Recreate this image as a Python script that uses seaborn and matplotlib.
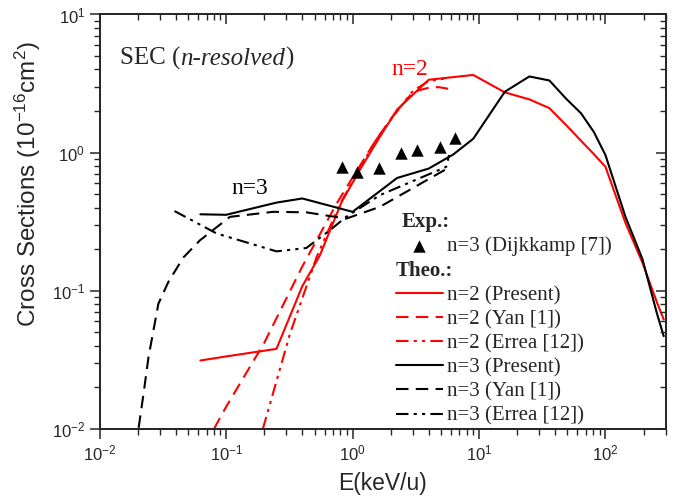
import matplotlib
matplotlib.use("Agg")
import matplotlib.pyplot as plt
import seaborn as sns
from matplotlib.lines import Line2D

# ---------------- data ----------------
E_n2_present = [0.0625, 0.1, 0.25, 0.4, 0.55, 0.82, 1.14, 1.64, 2.25, 4.0, 9.0, 16, 25, 36, 49, 64, 81, 100, 144, 196, 256, 289]
S_n2_present = [0.0313, 0.0335, 0.038, 0.108, 0.18, 0.44, 0.75, 1.3, 2.05, 3.37, 3.65, 2.73, 2.43, 2.1, 1.58, 1.22, 0.975, 0.79, 0.31, 0.16, 0.082, 0.062]

E_n2_yan = [0.08, 0.1, 0.2, 0.4, 0.75, 1.0, 1.5, 2.0, 3.0, 4.0, 4.8, 5.7]
S_n2_yan = [0.01, 0.0145, 0.042, 0.15, 0.43, 0.66, 1.2, 1.75, 2.75, 2.95, 2.98, 2.9]

E_n2_errea = [0.195, 0.32, 0.52, 0.8, 1.0, 1.5, 2.25, 3.0, 4.0, 5.5, 5.7]
S_n2_errea = [0.01, 0.049, 0.176, 0.43, 0.62, 1.2, 2.0, 2.8, 3.3, 3.45, 3.58]

E_n3_present = [0.0625, 0.1, 0.25, 0.4, 1.0, 2.25, 4.0, 6.25, 9.0, 16, 25, 36, 49, 64, 81, 100, 144, 196, 256, 289]
S_n3_present = [0.358, 0.355, 0.435, 0.466, 0.373, 0.656, 0.767, 0.97, 1.26, 2.76, 3.56, 3.33, 2.45, 1.93, 1.41, 0.96, 0.343, 0.17, 0.068, 0.047]

E_n3_yan = [0.0203, 0.0222, 0.0243, 0.0266, 0.0291, 0.0349, 0.0458, 0.062, 0.107, 0.235, 0.43, 0.89, 1.64, 5.5]
S_n3_yan = [0.0102, 0.018, 0.0331, 0.0518, 0.0807, 0.116, 0.174, 0.232, 0.343, 0.373, 0.37, 0.333, 0.405, 0.76]

E_n3_errea = [0.039, 0.084, 0.25, 0.43, 0.66, 0.89, 1.64, 5.5, 5.8]
S_n3_errea = [0.378, 0.26, 0.193, 0.204, 0.274, 0.343, 0.492, 0.789, 0.96]

E_exp = [0.817, 1.08, 1.62, 2.43, 3.24, 4.88, 6.45]
S_exp = [0.782, 0.726, 0.776, 0.994, 1.05, 1.09, 1.28]

legend_labels = ["n=2 (Present)", "n=2 (Yan [1])", "n=2 (Errea [12])",
                 "n=3 (Present)", "n=3 (Yan [1])", "n=3 (Errea [12])"]
exp_label = "n=3 (Dijkkamp [7])"

# ---------------- style ----------------
sns.set_style("ticks")
plt.rcParams["font.family"] = ["Liberation Sans", "DejaVu Sans"]
plt.rcParams["mathtext.fontset"] = "custom"
plt.rcParams["mathtext.rm"] = "Liberation Sans"
plt.rcParams["mathtext.it"] = "Liberation Sans:italic"
plt.rcParams["mathtext.bf"] = "Liberation Sans:bold"
plt.rcParams["axes.linewidth"] = 1.1
plt.rcParams["axes.unicode_minus"] = True

RED = "#ff0000"
BLK = "#000000"
DASH = (0, (6, 3.5))
DADOT = (0, (6, 2.5, 1.5, 2.5, 1.5, 2.5))
LW = 1.5

fig = plt.figure(figsize=(6.74, 4.98), dpi=100)
ax = fig.add_axes([0.148, 0.1386, 0.8398, 0.8323])

series = [
    (E_n2_present, S_n2_present, RED, "-"),
    (E_n2_yan, S_n2_yan, RED, DASH),
    (E_n2_errea, S_n2_errea, RED, DADOT),
    (E_n3_present, S_n3_present, BLK, "-"),
    (E_n3_yan, S_n3_yan, BLK, DASH),
    (E_n3_errea, S_n3_errea, BLK, DADOT),
]
for (xs, ys, c, ls), lab in zip(series, legend_labels):
    sns.lineplot(x=xs, y=ys, ax=ax, color=c, linestyle=ls, linewidth=LW,
                 sort=False, estimator=None, label=lab)

sns.scatterplot(x=E_exp, y=S_exp, ax=ax, marker="^", color="black", s=80,
                edgecolor="black", linewidth=0, label=exp_label, zorder=5)

ax.set_xscale("log")
ax.set_yscale("log")
ax.set_xlim(0.01, 300)
ax.set_ylim(0.01, 10)

ax.tick_params(which="major", direction="out", length=7, width=1.1,
               labelsize=12, top=False, right=False)
ax.tick_params(which="minor", direction="out", length=4, width=1.0,
               top=False, right=False)

ax.set_xlabel("E(keV/u)", fontsize=16.5, labelpad=6)
ax.set_ylabel("Cross Sections (10$^{-16}$cm$^{2}$)", fontsize=17.5)
ax.yaxis.set_label_coords(-0.10, 0.59)

# mirrored ticks on top / right, pointing inward
axt = ax.twiny()
axt.set_xscale("log")
axt.set_xlim(ax.get_xlim())
axt.tick_params(axis="x", which="major", direction="in", length=7, width=1.1,
                top=True, bottom=False, labeltop=False)
axt.tick_params(axis="x", which="minor", direction="in", length=4, width=1.0,
                top=True, bottom=False, labeltop=False)
axr = ax.twinx()
axr.set_yscale("log")
axr.set_ylim(ax.get_ylim())
axr.tick_params(axis="y", which="major", direction="in", length=7, width=1.1,
                right=True, left=False, labelright=False)
axr.tick_params(axis="y", which="minor", direction="in", length=4, width=1.0,
                right=True, left=False, labelright=False)

# annotations
serif = ["Liberation Serif", "DejaVu Serif"]
t1 = ax.text(0.035, 0.866, "SEC (", transform=ax.transAxes, fontsize=18,
             family=serif, va="bottom", ha="left")
t2 = ax.annotate("n-resolved", xy=(1, 0), xycoords=t1, fontsize=18,
                 family=serif, style="italic", va="bottom", ha="left")
ax.annotate(")", xy=(1, 0), xycoords=t2, fontsize=18, family=serif,
            va="bottom", ha="left")
ax.text(0.154, 0.553, "n=3", fontsize=17, family=serif, color=BLK,
        ha="center", va="center")
ax.text(2.82, 4.0, "n=2", fontsize=17, family=serif, color=RED,
        ha="center", va="center")

# legend
h, l = ax.get_legend_handles_labels()
hmap = dict(zip(l, h))
blank = Line2D([], [], linestyle="none")
handles = [blank, hmap[exp_label], blank] + [hmap[k] for k in legend_labels]
labels = ["Exp.:", exp_label, "Theo.:"] + legend_labels
leg = ax.legend(handles, labels, loc="upper left", bbox_to_anchor=(0.523, 0.5235),
                frameon=False, prop={"family": serif, "size": 15},
                handlelength=2.25, handletextpad=0.2, labelspacing=0.22,
                borderpad=0, borderaxespad=0)
texts = leg.get_texts()
texts[0].set_fontweight("bold")
texts[2].set_fontweight("bold")
texts[0].set_x(-45)
texts[2].set_x(-51)

fig.savefig("out.png", dpi=100, facecolor="white")
